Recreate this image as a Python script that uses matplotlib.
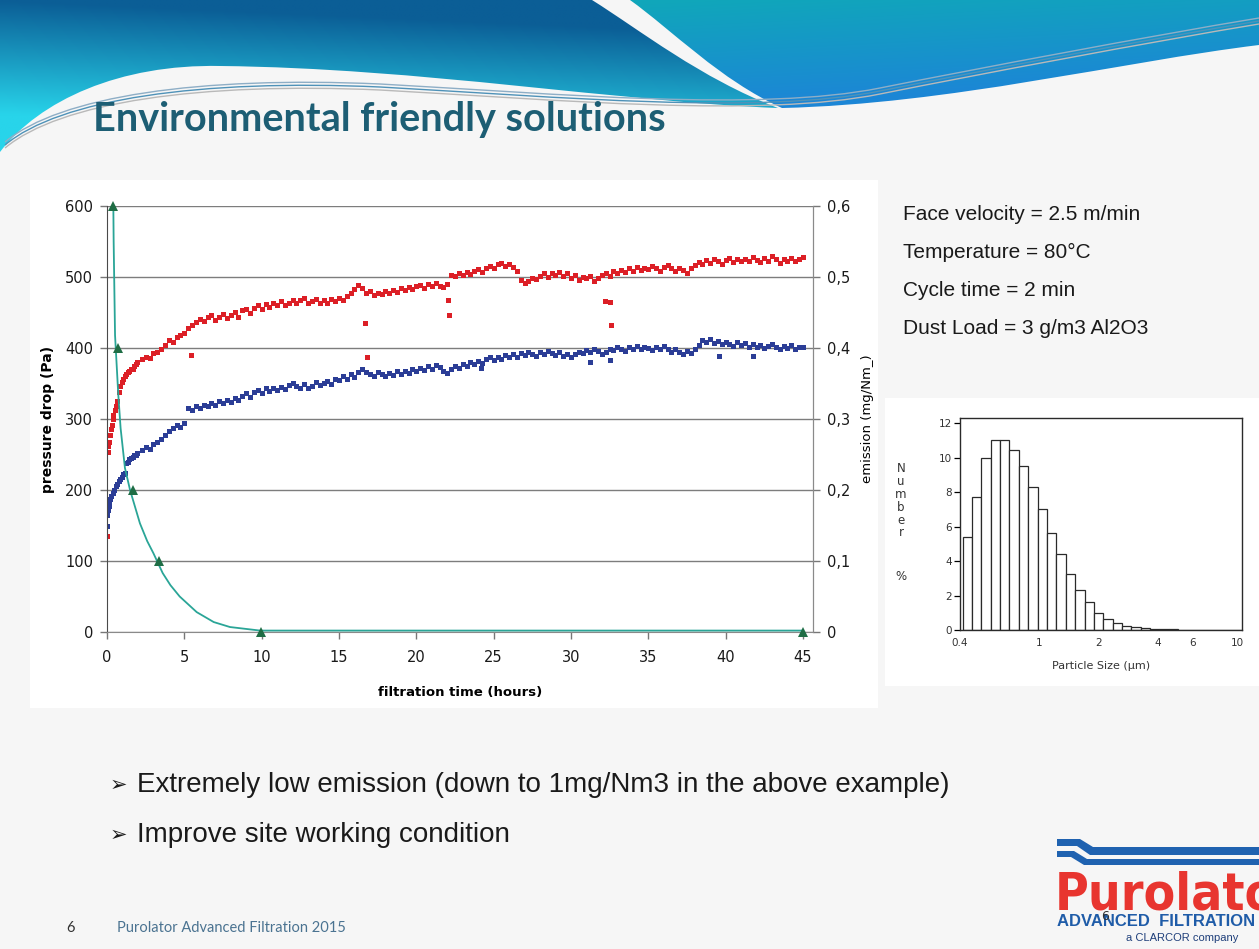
import numpy as np
import matplotlib
matplotlib.use('Agg')
import matplotlib.pyplot as plt
from matplotlib.path import Path
from matplotlib.patches import PathPatch, Rectangle, Polygon
from matplotlib.ticker import FuncFormatter, NullLocator
from matplotlib.colors import to_rgb

# ---------------- data ----------------
# start-up phase, logged more densely
red_early_hours = [0.0, 0.0, 0.03, 0.06, 0.08, 0.12, 0.18, 0.24, 0.3, 0.36, 0.42, 0.5, 0.58, 0.66,
                   0.75, 0.85, 0.95, 1.05, 1.15, 1.25, 1.35, 1.45, 1.55, 1.65, 1.75, 1.85, 1.95]
red_early_pa = [135, 168, 177, 253, 262, 268, 278, 286, 292, 300, 306, 312, 318, 326,
                338, 346, 352, 356, 360, 364, 366, 368, 371, 370, 375, 377, 380]
blue_early_hours = [0.0, 0.02, 0.06, 0.1, 0.15, 0.2, 0.28, 0.36, 0.45, 0.55, 0.65, 0.75, 0.85,
                    0.95, 1.05, 1.15, 1.25, 1.35, 1.45, 1.55, 1.65, 1.75, 1.85, 1.95]
blue_early_pa = [150, 165, 172, 178, 183, 188, 192, 196, 200, 205, 209, 213, 216,
                 219, 222, 224, 238, 240, 243, 245, 247, 249, 250, 252]

# regular log, one sample every 15 minutes from 2.25 h on
sample_hours = np.arange(2.25, 45.001, 0.25)
red_pa = [384, 388, 386, 393, 395, 399, 404, 411, 409, 416, 418, 421,
          428, 433, 437, 441, 438, 443, 447, 440, 444, 448, 442, 446,
          450, 444, 453, 455, 449, 457, 460, 455, 462, 458, 463, 460,
          466, 461, 464, 468, 463, 467, 470, 464, 466, 469, 463, 467,
          464, 469, 466, 471, 468, 473, 477, 483, 489, 485, 478, 480,
          474, 478, 476, 480, 477, 482, 479, 484, 481, 486, 483, 487,
          489, 485, 490, 487, 491, 488, 486, 490, 503, 501, 505, 503,
          507, 504, 509, 511, 507, 513, 516, 512, 518, 520, 515, 518,
          514, 508, 496, 491, 494, 499, 497, 502, 505, 500, 506, 503,
          507, 501, 505, 499, 503, 496, 500, 498, 502, 495, 499, 503,
          505, 501, 508, 506, 510, 507, 512, 509, 514, 510, 513, 511,
          515, 512, 509, 514, 517, 512, 508, 513, 510, 506, 512, 517,
          521, 518, 524, 520, 526, 522, 519, 524, 527, 521, 525, 522,
          526, 523, 528, 524, 521, 527, 523, 529, 525, 520, 526, 523,
          527, 522, 525, 528]
blue_pa = [256, 260, 258, 265, 268, 272, 277, 283, 287, 291, 289, 294,
           316, 312, 318, 315, 320, 318, 323, 320, 325, 322, 327, 324,
           330, 327, 333, 336, 331, 338, 341, 337, 343, 339, 344, 341,
           345, 342, 348, 351, 346, 344, 349, 343, 347, 352, 348, 351,
           354, 350, 357, 355, 360, 357, 363, 359, 366, 370, 366, 364,
           361, 366, 363, 360, 365, 362, 367, 364, 368, 365, 370, 367,
           372, 369, 374, 371, 376, 373, 368, 365, 370, 374, 372, 377,
           375, 380, 377, 382, 379, 384, 387, 383, 388, 385, 390, 387,
           391, 388, 393, 390, 395, 392, 389, 394, 391, 396, 393, 390,
           394, 389, 392, 387, 391, 395, 393, 397, 394, 399, 396, 392,
           395, 399, 397, 402, 399, 396, 401, 398, 403, 399, 402, 400,
           397, 401, 398, 403, 399, 395, 398, 394, 392, 396, 393, 399,
           404, 411, 408, 412, 407, 410, 405, 409, 406, 403, 408, 404,
           407, 402, 405, 401, 404, 400, 403, 406, 401, 398, 403, 400,
           404, 399, 402, 401]

# stray readings
red_stray_hours = [5.4, 16.7, 16.8, 22.05, 22.1, 32.2, 32.5, 32.6]
red_stray_pa = [390, 435, 387, 467, 447, 466, 465, 433]
blue_stray_hours = [22.0, 24.2, 31.2, 32.5, 39.6, 41.8]
blue_stray_pa = [365, 372, 380, 383, 389, 389]

# emission (right axis)
emission_curve_hours = [0.41, 0.43, 0.52, 0.73, 0.88, 1.16, 1.49, 2.13, 2.6, 3.0, 3.6, 4.1, 4.7,
                        5.8, 6.9, 7.95, 9.9, 45.0]
emission_curve_mg = [0.60, 0.55, 0.418, 0.334, 0.287, 0.231, 0.20, 0.153, 0.128, 0.111, 0.083,
                     0.066, 0.05, 0.028, 0.014, 0.007, 0.002, 0.002]
emission_marker_hours = [0.41, 0.73, 1.7, 3.36, 9.93, 45.0]
emission_marker_mg = [0.6, 0.4, 0.2, 0.1, 0.0, 0.0]

# dust particle size distribution
size_bin_edges = [0.413, 0.46, 0.513, 0.572, 0.638, 0.711, 0.793, 0.884, 0.986, 1.10, 1.226,
                  1.367, 1.524, 1.70, 1.895, 2.11, 2.36, 2.63, 2.93, 3.27, 3.64, 4.06, 4.53,
                  5.05, 5.63, 6.28, 7.0, 7.8, 8.7, 9.7, 10.6]
size_number_pct = [5.4, 7.7, 10.0, 11.0, 11.0, 10.45, 9.5, 8.3, 7.0, 5.6, 4.4, 3.25, 2.3, 1.6,
                   1.0, 0.65, 0.4, 0.25, 0.15, 0.12, 0.06, 0.04, 0.03, 0.02, 0.02, 0.01, 0.01,
                   0.01, 0.01, 0.01]
size_ticks = [0.4, 1, 2, 4, 6, 10]
size_tick_labels = ['0.4', '1', '2', '4', '6', '10']

conditions = ['Face velocity = 2.5 m/min', 'Temperature = 80\u00b0C', 'Cycle time = 2 min',
              'Dust Load = 3 g/m3 Al2O3']
bullets = ['Extremely low emission (down to 1mg/Nm3 in the above example)',
           'Improve site working condition']

RED = '#dc1f26'
BLUE = '#2b3d96'
TEAL_LINE = '#2aa597'
TRI_GREEN = '#1f6d45'

plt.rcParams['font.family'] = ['DejaVu Sans']

W, H = 1259, 949
fig = plt.figure(figsize=(W / 100, H / 100), dpi=100, facecolor='#f6f6f6')

# full-page axes in pixel units (y down) for the slide decoration
bg = fig.add_axes([0, 0, 1, 1], zorder=-10)
bg.set_autoscale_on(False)
bg.set_xlim(0, W)
bg.set_ylim(H, 0)
bg.axis('off')


def curve_path(start, segments):
    verts = [start]
    codes = [Path.MOVETO]
    for seg in segments:
        if len(seg) == 3:
            verts += list(seg)
            codes += [Path.CURVE4] * 3
        else:
            verts.append(seg[0])
            codes.append(Path.LINETO)
    verts.append(start)
    codes.append(Path.CLOSEPOLY)
    return Path(verts, codes)


def gradient_fill(path, c_top, c_bottom, weight_y, weight_x, x_ref):
    patch = PathPatch(path, facecolor='none', edgecolor='none')
    bg.add_patch(patch)
    xs = np.linspace(0, W, 160)
    ys = np.linspace(0, 170, 90)
    X, Y = np.meshgrid(xs, ys)
    s = np.clip(Y * weight_y + (X - x_ref) * weight_x, 0, 1)[..., None]
    img = np.array(to_rgb(c_top)) * (1 - s) + np.array(to_rgb(c_bottom)) * s
    im = bg.imshow(img, extent=(0, W, 170, 0), aspect='auto', interpolation='bilinear', zorder=1)
    im.set_clip_path(patch)


# header swooshes
left_wave = curve_path((0, 0), [((592, 0),),
                                ((640, 30), (700, 78), (778, 108)),
                                ((620, 102), (420, 68), (220, 66)),
                                ((120, 64), (40, 100), (0, 152))])
gradient_fill(left_wave, '#0b5e96', '#28d4ea', 1 / 115, -1 / 2600, 0)

right_wave = curve_path((630, 0), [((1259, 0),), ((1259, 45),),
                                   ((1120, 62), (950, 104), (782, 108)),
                                   ((720, 80), (672, 30), (630, 0))])
gradient_fill(right_wave, '#10a7ba', '#1c86d6', 1 / 110, 1 / 2200, 650)

for dy, col in [(0, '#8eaec6'), (3, '#4f92b8'), (6, '#b9b9b9')]:
    streak = Path([(5, 142 + dy), (60, 96 + dy), (200, 76 + dy), (380, 84 + dy),
                   (560, 94 + dy), (760, 112 + dy), (880, 88 + dy),
                   (980, 68 + dy), (1150, 36 + dy), (1259, 18 + dy)],
                  [Path.MOVETO] + [Path.CURVE4] * 9)
    bg.add_patch(PathPatch(streak, facecolor='none', edgecolor=col, lw=1.0, zorder=2))

bg.text(93, 131, 'Environmental friendly solutions', fontsize=28.5, fontweight='bold',
        color='#1d5e74', family=['Lato', 'DejaVu Sans'], va='baseline', ha='left', zorder=3)

# white panels behind the two charts
bg.add_patch(Rectangle((30, 180), 848, 528, facecolor='white', edgecolor='none', zorder=1))
bg.add_patch(Rectangle((885, 398), 374, 288, facecolor='white', edgecolor='none', zorder=1))

# ---------------- main chart ----------------
ax = fig.add_axes([107 / W, (H - 632) / H, (813 - 107) / W, (632 - 206) / H])
ax.set_facecolor('none')
ax.set_xlim(0, 45.65)
ax.set_ylim(0, 600)
ax.set_xticks(range(0, 50, 5))
ax.set_yticks(range(0, 700, 100))
ax.grid(axis='y', color='#7d7d7d', lw=1.0)
ax.set_axisbelow(True)
ax.spines['top'].set_visible(False)
ax.spines['left'].set_color('#4a4a4a')
ax.spines['bottom'].set_color('#8a8a8a')
ax.spines['right'].set_color('#8a8a8a')
ax.tick_params(direction='out', length=5, width=1, color='#777777', labelsize=10.5,
               labelcolor='#1a1a1a', pad=5)
ax.tick_params(axis='x', pad=8)

ms = 3.6
ax.plot(red_early_hours, red_early_pa, 's', ms=ms, mew=0, color=RED)
ax.plot(sample_hours, red_pa, 's', ms=ms, mew=0, color=RED)
ax.plot(red_stray_hours, red_stray_pa, 's', ms=ms, mew=0, color=RED)
ax.plot(blue_early_hours, blue_early_pa, 's', ms=ms, mew=0, color=BLUE)
ax.plot(sample_hours, blue_pa, 's', ms=ms, mew=0, color=BLUE)
ax.plot(blue_stray_hours, blue_stray_pa, 's', ms=ms, mew=0, color=BLUE)

ax.set_xlabel('filtration time (hours)', fontsize=9.5, fontweight='bold', labelpad=15)
ax.set_ylabel('pressure drop (Pa)', fontsize=10, fontweight='bold', labelpad=7)

ax2 = ax.twinx()
ax2.set_ylim(0, 0.6)
ax2.set_yticks([0, 0.1, 0.2, 0.3, 0.4, 0.5, 0.6])
ax2.yaxis.set_major_formatter(FuncFormatter(lambda v, pos: '0' if v == 0 else f'{v:.1f}'.replace('.', ',')))
for side in ['top', 'left', 'bottom']:
    ax2.spines[side].set_visible(False)
ax2.spines['right'].set_color('#8a8a8a')
ax2.tick_params(direction='out', length=5, width=1, color='#777777', labelsize=10.5,
                labelcolor='#1a1a1a', pad=5)
ax2.plot(emission_curve_hours, emission_curve_mg, color=TEAL_LINE, lw=1.3, clip_on=False)
ax2.plot(emission_marker_hours, emission_marker_mg, '^', ms=7, mew=0, color=TRI_GREEN, clip_on=False)
ax2.set_ylabel('emission (mg/Nm_)', fontsize=9.5, labelpad=8)

# ---------------- test conditions ----------------
for i, line in enumerate(conditions):
    bg.text(903, 214 + 38 * i, line, fontsize=15, family=['Liberation Sans', 'DejaVu Sans'],
            color='#1a1a1a', va='center', ha='left', zorder=3)

# ---------------- particle size histogram ----------------
hx = fig.add_axes([960 / W, (H - 630) / H, 282 / W, 212 / H])
hx.set_xscale('log')
hx.bar(size_bin_edges[:-1], size_number_pct, width=np.diff(size_bin_edges), align='edge',
       facecolor='white', edgecolor='#2a2a2a', lw=0.9)
hx.set_xlim(0.4, 10.6)
hx.set_ylim(0, 12.3)
hx.set_xticks(size_ticks)
hx.set_xticklabels(size_tick_labels)
hx.xaxis.set_minor_locator(NullLocator())
hx.set_yticks(range(0, 13, 2))
hx.tick_params(axis='y', direction='out', length=4, width=0.9, labelsize=7.5, labelcolor='#333333', pad=2)
hx.tick_params(axis='x', length=0, labelsize=7.5, labelcolor='#333333', pad=6)
for sp in hx.spines.values():
    sp.set_color('#2a2a2a')
    sp.set_linewidth(1.0)
hx.set_xlabel('Particle Size (\u00b5m)', fontsize=8, color='#333333', labelpad=9)
for i, ch in enumerate('Number'):
    bg.text(901, 468 + 13 * i, ch, fontsize=8.5, color='#333333', ha='center', va='center', zorder=3)
bg.text(901, 576, '%', fontsize=8.5, color='#333333', ha='center', va='center', zorder=3)

# ---------------- bullets ----------------
for i, line in enumerate(bullets):
    y = 785 + 50 * i
    bg.text(110, y, '\u27a2', fontsize=15, color='#1a1a1a', va='center', ha='left', zorder=3)
    bg.text(137, y, line, fontsize=20, family=['Liberation Sans Narrow', 'Liberation Sans', 'DejaVu Sans'],
            color='#1a1a1a', va='center', ha='left', zorder=3)

# ---------------- footer & logo ----------------
bg.text(66, 928, '6', fontsize=10.5, color='#333333', va='center', ha='left',
        family=['Lato', 'DejaVu Sans'], zorder=3)
bg.text(117, 928, 'Purolator Advanced Filtration 2015', fontsize=10.5, color='#4b7391',
        va='center', ha='left', family=['Lato', 'DejaVu Sans'], zorder=3)

bg.add_patch(Polygon([(1057, 839), (1080, 839), (1093, 847), (1259, 847), (1259, 855),
                      (1090, 855), (1077, 846), (1057, 846)], closed=True,
                     facecolor='#1f62b0', edgecolor='none', zorder=3))
bg.add_patch(Polygon([(1057, 851), (1074, 851), (1087, 859), (1259, 859), (1259, 865),
                      (1084, 865), (1071, 857), (1057, 857)], closed=True,
                     facecolor='#1f62b0', edgecolor='none', zorder=3))
bg.text(1055, 909, 'Purolator', fontsize=37, fontweight='heavy', fontstretch='condensed',
        color='#e8352f', va='baseline', ha='left', zorder=3)
bg.text(1057, 926, 'ADVANCED  FILTRATION', fontsize=12, fontweight='bold', color='#1f5ca8',
        va='baseline', ha='left', family=['Liberation Sans', 'DejaVu Sans'], zorder=3)
bg.text(1126, 941, 'a CLARCOR company', fontsize=8, color='#1f3f7a', va='baseline', ha='left',
        family=['Liberation Sans', 'DejaVu Sans'], zorder=3)
bg.text(1101, 917, '6', fontsize=9, color='#333333', va='center', ha='left', zorder=4)

fig.savefig('out.png', dpi=100, facecolor=fig.get_facecolor())
